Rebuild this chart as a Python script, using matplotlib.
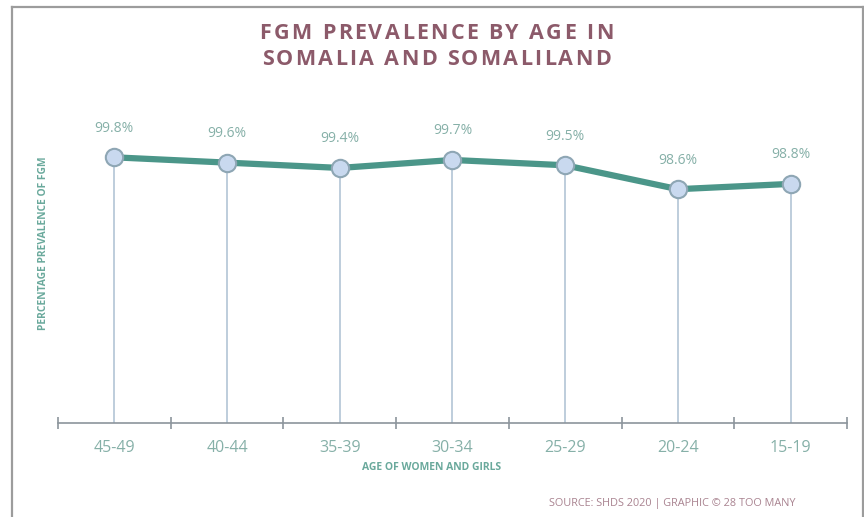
import matplotlib
matplotlib.use("Agg")
import matplotlib.pyplot as plt
from matplotlib.lines import Line2D

# data
age_groups = ["45-49", "40-44", "35-39", "30-34", "25-29", "20-24", "15-19"]
prevalence = [99.8, 99.6, 99.4, 99.7, 99.5, 98.6, 98.8]

title_lines = ["FGM PREVALENCE BY AGE IN", "SOMALIA AND SOMALILAND"]
x_label = "AGE OF WOMEN AND GIRLS"
y_label = "PERCENTAGE PREVALENCE OF FGM"
source = "SOURCE: SHDS 2020 | GRAPHIC \u00a9 28 TOO MANY"

TEAL = "#4b9689"
LABEL_TEAL = "#6aa99c"
TICK_TEAL = "#86b0a8"
MAUVE = "#8c5a6a"
STEM = "#b3c5d6"

plt.rcParams["font.family"] = ["Open Sans", "DejaVu Sans"]


def spaced_text(fig, xc, y, s, tracking, **kw):
    """Draw a centred line of text with extra letter spacing (in pixels)"""
    renderer = fig.canvas.get_renderer()

    def width(txt):
        t = fig.text(0, 0, txt, **kw)
        w = t.get_window_extent(renderer).width
        t.remove()
        return w

    ref = width("HH")
    advances = [width("H" + ch + "H") - ref for ch in s]
    total = sum(advances) + tracking * (len(s) - 1)
    fig_w = fig.bbox.width
    pos = xc * fig_w - total / 2
    for ch, adv in zip(s, advances):
        fig.text(pos / fig_w, y, ch, ha="left", va="center", **kw)
        pos += adv + tracking


fig = plt.figure(figsize=(8.64, 5.17), dpi=100)
ax = fig.add_axes([0.0671, 0.1818, 0.9132, 0.5242])

x = list(range(len(age_groups)))
y_min = 89.8

# drop lines from each point to the axis
ax.vlines(x, y_min, prevalence, color=STEM, lw=1.2, zorder=1)
ax.plot(x, prevalence, color=TEAL, lw=4.5, solid_capstyle="round", zorder=2,
        clip_on=False)
ax.plot(x, prevalence, "o", ms=12.5, mfc="#c9d9ef", mec="#8ea6b4", mew=1.5,
        zorder=3, clip_on=False)

for xi, val in zip(x, prevalence):
    ax.annotate(f"{val}%", (xi, val), xytext=(0, 21), textcoords="offset points",
                ha="center", va="center", fontsize=10, color=TICK_TEAL)

ax.set_xlim(-0.5, len(age_groups) - 0.5)
ax.set_ylim(y_min, 100)

for side in ["top", "right", "left"]:
    ax.spines[side].set_visible(False)
ax.spines["bottom"].set_color("#8c959c")
ax.spines["bottom"].set_linewidth(1.2)
ax.set_yticks([])

# ticks sit on the boundaries between categories
ax.set_xticks([i - 0.5 for i in range(len(age_groups) + 1)])
ax.set_xticklabels([])
ax.tick_params(axis="x", direction="inout", length=8, width=1.2, color="#8c959c")
ax.set_xticks(x, minor=True)
ax.set_xticklabels(age_groups, minor=True)
ax.tick_params(axis="x", which="minor", length=0, pad=12, labelsize=11.5,
               labelcolor=TICK_TEAL)

title_kw = dict(fontsize=15.5, fontweight="bold", color=MAUVE)
spaced_text(fig, 0.505, 0.936, title_lines[0], 2.3, **title_kw)
spaced_text(fig, 0.505, 0.884, title_lines[1], 2.3, **title_kw)

fig.text(0.499, 0.095, x_label, ha="center", va="center", fontsize=7.5,
         fontweight="bold", color=LABEL_TEAL)
fig.text(0.05, 0.53, y_label, ha="center", va="center", rotation=90,
         fontsize=7.4, fontweight="bold", color=LABEL_TEAL)
fig.text(0.778, 0.027, source, ha="center", va="center", fontsize=7.8,
         color="#a98390")

# grey frame on left, top and right
frame = dict(color="#9c9c9c", lw=1.6, transform=fig.transFigure)
fig.add_artist(Line2D([0.0135, 0.0135], [0, 0.9865], **frame))
fig.add_artist(Line2D([0.0135, 0.9983], [0.9865, 0.9865], **frame))
fig.add_artist(Line2D([0.9983, 0.9983], [0, 0.9865], **frame))

fig.savefig("out.png", dpi=100)
